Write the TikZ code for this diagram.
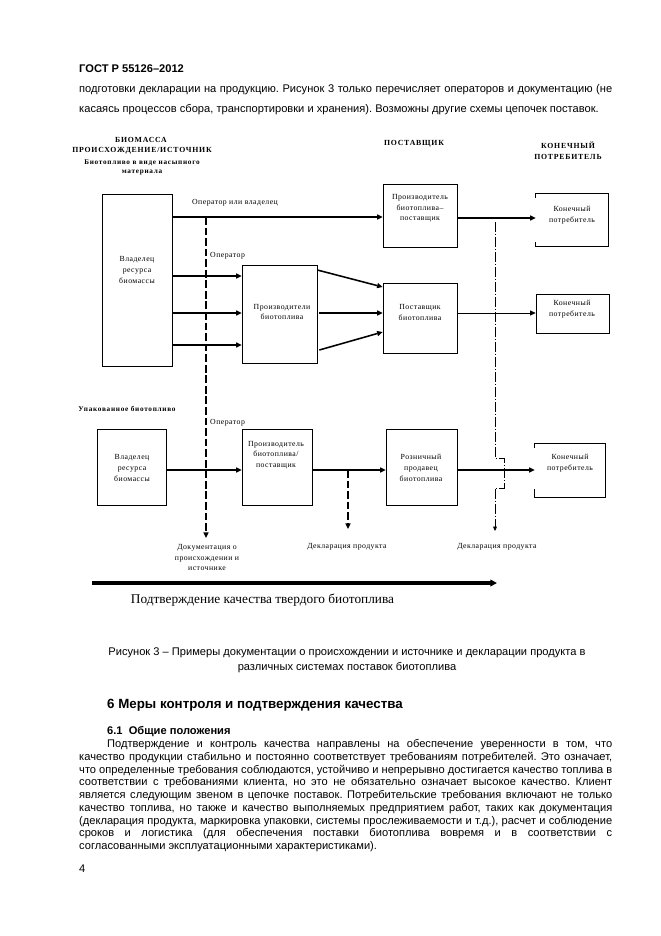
\documentclass[tikz,border=0pt]{standalone}
\usepackage{fontspec}
\setmainfont{Liberation Sans}
\newfontfamily\dg[LetterSpace=6]{Liberation Serif}
\newfontfamily\dgb[LetterSpace=10]{Liberation Serif}
\newfontfamily\tms{Liberation Serif}
\usetikzlibrary{arrows.meta,fit}
\newcommand\myjline[2]{\hbox to #1{#2}}
\frenchspacing
\begin{document}
\begin{tikzpicture}[x=0.9pt,y=-0.9pt,
  box/.style={draw,line width=0.6pt,inner sep=0pt},
  nobox/.style={inner sep=0pt},
  lbl/.style={font=\dg\fontsize{7}{9.6}\selectfont,inner sep=0pt,align=center},
  hdr/.style={font=\dgb\bfseries\fontsize{7}{9.5}\selectfont,inner sep=0pt,align=center},
  body/.style={font=\fontsize{10}{11.5}\selectfont,inner sep=0pt,anchor=base west},
  tip/.style={-{Triangle[length=5pt,width=4.5pt]}},
  thk/.style={line width=1.4pt,tip},
  thn/.style={line width=0.7pt,tip},
  dsh/.style={line width=1.3pt,dash pattern=on 7pt off 2.5pt,tip},
  dd/.style={line width=0.6pt,dash pattern=on 9pt off 1.5pt on 1.5pt off 1.5pt,-{Triangle[length=4pt,width=3.5pt]}},
  big/.style={line width=3pt,-{Triangle[length=6pt,width=6pt]}}
]
\fill[white] (0,0) rectangle (661,936);
\useasboundingbox (0,0) rectangle (661,936);

% ---------- page text top ----------
\node[body,font=\bfseries\fontsize{10}{11.5}\selectfont] (gost) at (79,72) {ГОСТ Р 55126–2012};
\node[body] (t1) at (79,92) {\myjline{479.7pt}{подготовки декларации на продукцию. Рисунок 3 только перечисляет операторов и документацию (не}};
\node[body] (t2) at (79,112) {касаясь процессов сбора, транспортировки и хранения). Возможны другие схемы цепочек поставок.};

% ---------- headers ----------
\node[hdr] (h1) at (141,140) {БИОМАССА};
\node[hdr] (h2) at (142,151) {ПРОИСХОЖДЕНИЕ/ИСТОЧНИК};
\node[hdr,font=\dgb\bfseries\fontsize{6.5}{9}\selectfont] (h3) at (142,163) {Биотопливо в виде насыпного};
\node[hdr,font=\dgb\bfseries\fontsize{6.5}{9}\selectfont] (h4) at (142,173) {материала};
\node[hdr] (h5) at (414,144) {ПОСТАВЩИК};
\node[hdr] (h6) at (568,145) {КОНЕЧНЫЙ};
\node[hdr] (h7) at (568,157) {ПОТРЕБИТЕЛЬ};
\node[hdr,font=\dgb\bfseries\fontsize{6.5}{9}\selectfont] (h8) at (127,409) {Упакованное биотопливо};

% ---------- boxes ----------
\node[box,fit={(102,194) (172,366)}] (owner1) {};
\node[box,fit={(242,265) (317,363)}] (prod1) {};
\node[box,fit={(383,184) (457,247)}] (ps1) {};
\node[box,fit={(383,283) (457,353)}] (sup1) {};
\node[nobox,fit={(536,194) (608,246)}] (cons1) {};
\node[box,fit={(536,294) (609,333)}] (cons2) {};
\node[box,fit={(97,429) (166,505)}] (owner2) {};
\node[box,fit={(242,429) (312,505)}] (ps2) {};
\node[box,fit={(386,429) (457,505)}] (ret) {};
\node[nobox,fit={(535,444) (605,497)}] (cons3) {};
\draw[line width=0.6pt] ([yshift=-4*0.9pt]cons1.north west) -- (cons1.north west) -- (cons1.north east) -- (cons1.south east) -- (cons1.south west) -- ([yshift=4*0.9pt]cons1.south west);
\draw[line width=0.6pt] ([yshift=-4*0.9pt]cons3.north west) -- (cons3.north west) -- (cons3.north east) -- (cons3.south east) -- (cons3.south west) -- ([yshift=8*0.9pt]cons3.south west);

% ---------- box texts ----------
\node[lbl] (owner1t) at (137,270) {Владелец\\ресурса\\биомассы};
\node[lbl] (prod1t) at (282,312) {Производители\\биотоплива};
\node[lbl] (ps1t) at (420,208.5) {Производитель\\биотоплива–\\поставщик};
\node[lbl] (sup1t) at (420,312.5) {Поставщик\\биотоплива};
\node[lbl] (cons1t) at (572,215) {Конечный\\потребитель};
\node[lbl] (cons2t) at (572,309) {Конечный\\потребитель};
\node[lbl] (owner2t) at (132,468) {Владелец\\ресурса\\биомассы};
\node[lbl] (ps2t) at (276,455) {Производитель\\биотоплива/\\поставщик};
\node[lbl] (rett) at (421,468) {Розничный\\продавец\\биотоплива};
\node[lbl] (cons3t) at (570,463) {Конечный\\потребитель};

% ---------- connectors ----------
\draw[thk] (owner1.east |- 0,217) -- (ps1.west |- 0,217);
\node[lbl] (opow) at (235,203) {Оператор или владелец};
\draw[thk] (ps1.east |- 0,218) -- (cons1.west |- 0,218);
\draw[thk] (owner1.east |- 0,276) -- (prod1.west |- 0,276);
\draw[thk] (owner1.east |- 0,313) -- (prod1.west |- 0,313);
\draw[thk] (owner1.east |- 0,345) -- (prod1.west |- 0,345);
\draw[thk] (prod1.east |- 0,270) -- (sup1.west |- 0,287);
\draw[thk] ([xshift=2*0.9pt]prod1.east |- 0,313) -- (sup1.west |- 0,313);
\draw[thk] ([xshift=2*0.9pt]prod1.east |- 0,350) -- (sup1.west |- 0,332);
\draw[thn] (sup1.east |- 0,313) -- (cons2.west |- 0,313);
\draw[thk] (owner2.east |- 0,470) -- (ps2.west |- 0,470);
\draw[thk] (ps2.east |- 0,470) -- (ret.west |- 0,470);
\draw[thk] (ret.east |- 0,470) -- (cons3.west |- 0,470);

% dashed operator line
\coordinate (d1top) at (206,217);
\coordinate (d1end) at (206,538);
\draw[dsh] (d1top) -- (d1end);
\node[lbl,anchor=west] (op1) at (210,256) {Оператор};
\node[lbl,anchor=west] (op2) at (210,423) {Оператор};
\node[lbl] (doc) at (207,557.5) {Документация о\\происхождении и\\источнике};

% dashed declaration line
\coordinate (d2top) at (348,470);
\coordinate (d2end) at (348,529);
\draw[dsh] (d2top) -- (d2end);
\node[lbl] (decl1) at (347,547) {Декларация продукта};

% dash-dot declaration line
\coordinate (d3top) at (495,222);
\coordinate (d3a) at (495,458);
\coordinate (d3b) at (504,458);
\coordinate (d3c) at (504,488);
\coordinate (d3d) at (495,488);
\coordinate (d3end) at (495,531);
\draw[dd] (d3top) -- (d3a) -- (d3b) -- (d3c) -- (d3d) -- (d3end);
\node[lbl] (decl2) at (497,547) {Декларация продукта};

% big arrow
\coordinate (bigs) at (92,583);
\coordinate (bige) at (497,583);
\draw[big] (bigs) -- (bige);
\node[inner sep=0pt,font=\tms\fontsize{12}{14}\selectfont] (qual) at (262.5,600) {Подтверждение качества твердого биотоплива};

% ---------- caption & section ----------
\node[inner sep=0pt,anchor=base,font=\fontsize{10}{11.5}\selectfont] (cap1) at (347,655) {Рисунок 3 – Примеры документации о происхождении и источнике и декларации продукта в};
\node[inner sep=0pt,anchor=base,font=\fontsize{10}{11.5}\selectfont] (cap2) at (347,670.5) {различных системах поставок биотоплива};
\node[body,font=\bfseries\fontsize{12}{14}\selectfont] (sec) at (107,708.5) {6 Меры контроля и подтверждения качества};
\node[body,font=\bfseries\fontsize{10}{11.5}\selectfont] (sub) at (107,734.5) {6.1\ \ Общие положения};

\node[body] (p1) at (107,747.5) {\myjline{454.5pt}{Подтверждение и контроль качества направлены на обеспечение уверенности в том, что}};
\node[body] (p2) at (79,760.25) {\myjline{479.7pt}{качество продукции стабильно и постоянно соответствует требованиям потребителей. Это означает,}};
\node[body] (p3) at (79,773) {\myjline{479.7pt}{что определенные требования соблюдаются, устойчиво и непрерывно достигается качество топлива в}};
\node[body] (p4) at (79,785.75) {\myjline{479.7pt}{соответствии с требованиями клиента, но это не обязательно означает высокое качество. Клиент}};
\node[body] (p5) at (79,798.5) {\myjline{479.7pt}{является следующим звеном в цепочке поставок. Потребительские требования включают не только}};
\node[body] (p6) at (79,811.25) {\myjline{479.7pt}{качество топлива, но также и качество выполняемых предприятием работ, таких как документация}};
\node[body] (p7) at (79,824) {\myjline{479.7pt}{(декларация продукта, маркировка упаковки, системы прослеживаемости и т.д.), расчет и соблюдение}};
\node[body] (p8) at (79,836.75) {\myjline{479.7pt}{сроков и логистика (для обеспечения поставки биотоплива вовремя и в соответствии с}};
\node[body] (p9) at (79,849.5) {согласованными эксплуатационными характеристиками).};
\node[body] (pg) at (79,872) {4};
\end{tikzpicture}
\end{document}
